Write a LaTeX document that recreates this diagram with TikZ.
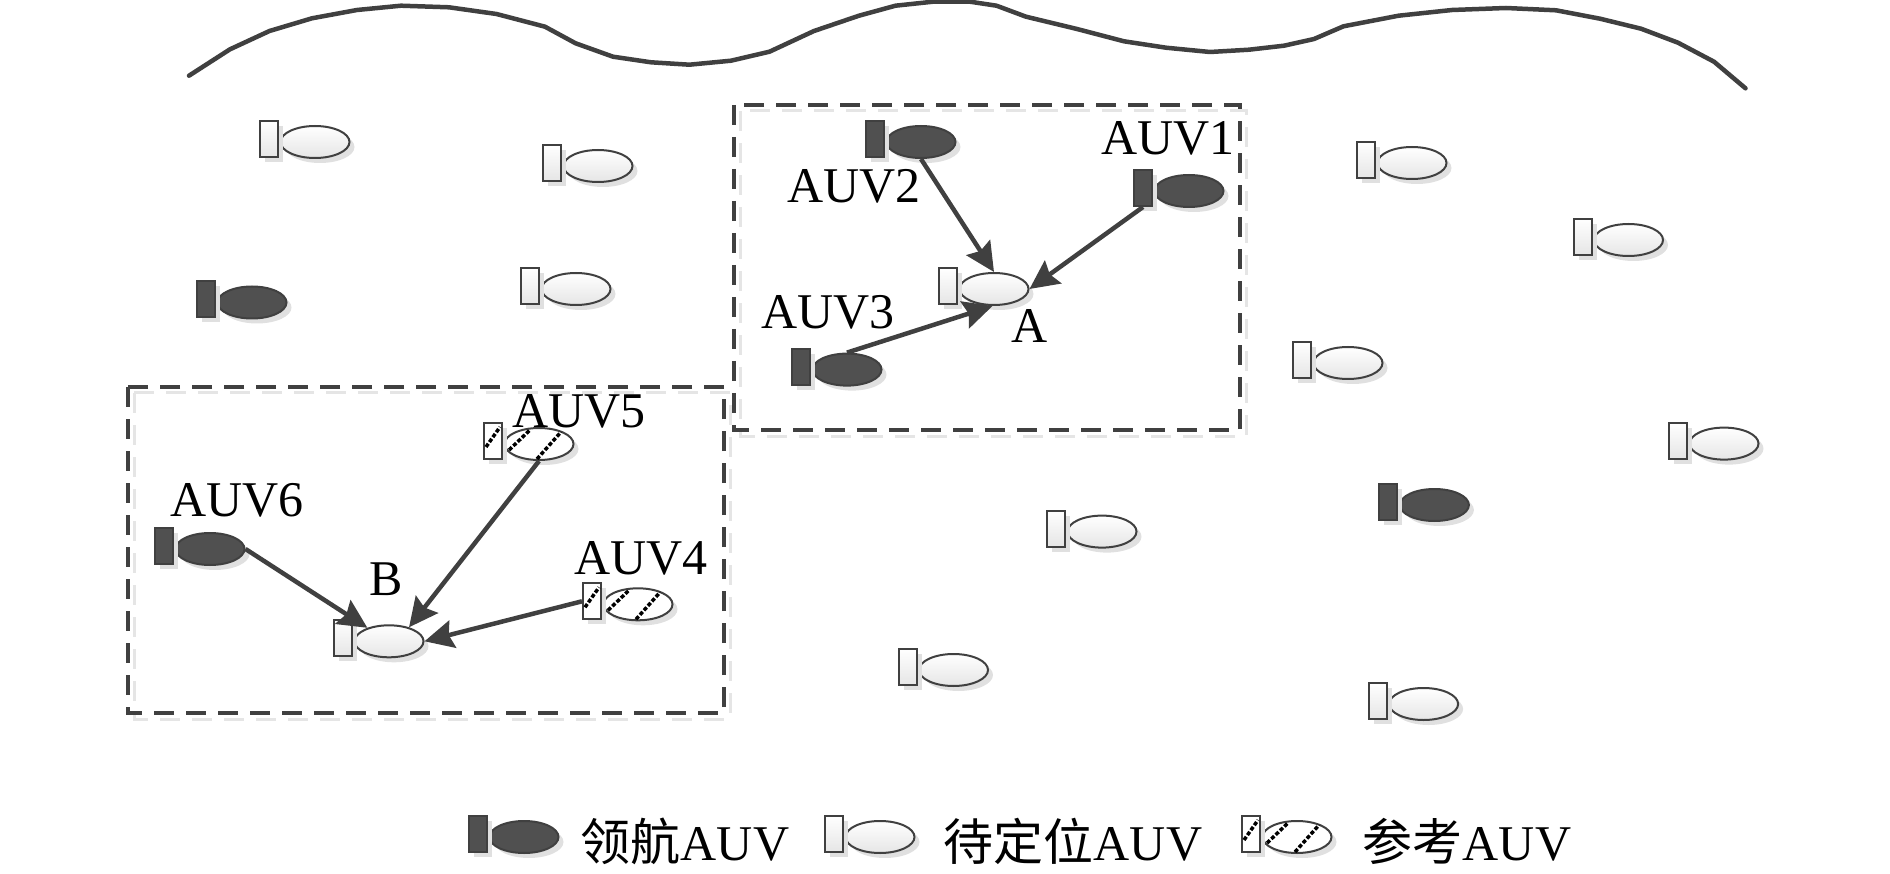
\documentclass[tikz,border=0pt]{standalone}
\usepackage{fontspec}
\setmainfont{Liberation Serif}
\newfontfamily\cjk{Noto Sans CJK SC}
\usetikzlibrary{arrows.meta, shapes.geometric, shadows}
\definecolor{auvgray}{HTML}{404040}
\definecolor{auvdark}{HTML}{505050}
\tikzset{
  softshadow/.style={drop shadow={shadow xshift=5pt, shadow yshift=-5pt, fill=black!12, opacity=1}},
  leadbody/.style={ellipse, draw=auvgray, line width=2pt, fill=auvdark, minimum width=69pt, minimum height=32pt, inner sep=0pt, softshadow},
  leadtail/.style={rectangle, draw=auvgray, line width=2pt, fill=auvdark, minimum width=18pt, minimum height=36pt, inner sep=0pt, softshadow},
  waitbody/.style={leadbody, fill=white, top color=white, bottom color=black!10},
  waittail/.style={leadtail, fill=white, top color=white, bottom color=black!10},
  refbody/.style={leadbody, fill=white},
  reftail/.style={leadtail, fill=white},
  hatchline/.style={draw=black, line width=3.5pt, dash pattern=on 4pt off 2pt},
  linkarrow/.style={draw=auvgray, line width=4.5pt, -{Stealth[length=29pt, width=28pt, inset=4pt]}},
  boxline/.style={draw=auvgray, line width=4.5pt, dash pattern=on 20pt off 12pt},
  boxshadow/.style={draw=black!10, line width=3pt, dash pattern=on 20pt off 12pt},
  auvlabel/.style={inner sep=0pt, font=\fontsize{50}{50}\selectfont}
}
\newcommand{\auv}[4]{
  \node[#1body] (#2) at (#3,#4) {};
  \node[#1tail] (#2t) at ([xshift=-46pt, yshift=3pt]#2.center) {};
}
\newcommand{\hatchauv}[1]{
  \draw[hatchline] ([shift={(-30pt,-6pt)}]#1.center) -- ([shift={(-9pt,14pt)}]#1.center);
  \draw[hatchline] ([shift={(-2pt,-15pt)}]#1.center) -- ([shift={(22pt,12pt)}]#1.center);
  \draw[hatchline] ([shift={(-7pt,-6pt)}]#1t.center) -- ([shift={(7pt,14pt)}]#1t.center);
}
\begin{document}
\begin{tikzpicture}[x=1pt, y=-1pt]
  \useasboundingbox (0,0) rectangle (1890,874);
  \draw[draw=auvgray, line width=4.5pt, line join=round, line cap=round] (189,75.7) -- (230,49.3) -- (269.5,31) -- (312,18.3) -- (357,10) -- (401,5.7) -- (449,7.3) -- (496.5,14) -- (545,26.7) -- (575.6,43.3) -- (613,56.7) -- (651,62.3) -- (689.4,64.7) -- (731,60.7) -- (769.5,51.7) -- (814,31) -- (859,15.7) -- (895.5,5.7) -- (933,1.7) -- (970,1.7) -- (996.5,5.7) -- (1026,16.7) -- (1077,29) -- (1124,41.3) -- (1166,47.7) -- (1210,52) -- (1249,49.7) -- (1284,45.7) -- (1314,39) -- (1343.5,26.3) -- (1398.6,15.7) -- (1452,10) -- (1506,8) -- (1556,10.3) -- (1600,18.7) -- (1641,28.7) -- (1678,42.7) -- (1714,61.7) -- (1745.5,88.3);

  \draw[boxshadow] (740,111) rectangle (1246,436);
  \draw[boxshadow] (134,393) rectangle (730,719);
  \draw[boxline] (734,105) rectangle (1240,430);
  \draw[boxline] (128,387) rectangle (724,713);

  \auv{wait}{w1}{315}{142}
  \auv{wait}{w2}{598}{166}
  \auv{wait}{w3}{576}{289}
  \auv{wait}{w4}{1412}{163}
  \auv{wait}{w5}{1628.5}{240}
  \auv{wait}{w6}{1348}{363}
  \auv{wait}{w7}{1724}{443.6}
  \auv{wait}{w8}{1102}{531.6}
  \auv{wait}{w9}{953.5}{670}
  \auv{wait}{w10}{1423.6}{704}
  \auv{lead}{l1}{252}{302.5}
  \auv{lead}{l2}{1434.4}{505}

  \auv{wait}{ptA}{994}{289}
  \auv{lead}{auv1}{1189}{191}
  \auv{lead}{auv2}{921}{142}
  \auv{lead}{auv3}{847}{369.6}
  \auv{wait}{ptB}{389}{641.3}
  \auv{ref}{auv4}{638}{604.3}
  \hatchauv{auv4}
  \auv{ref}{auv5}{539}{444}
  \hatchauv{auv5}
  \auv{lead}{auv6}{210}{549}

  \draw[linkarrow] (auv1t.south) -- (ptA.east);
  \draw[linkarrow] (auv2.south) -- (ptA.north);
  \draw[linkarrow] (auv3.north) -- (ptA.265);
  \draw[linkarrow] (auv4t.west) -- (ptB.east);
  \draw[linkarrow] (auv5.south) -- (ptB.35);
  \draw[linkarrow] (auv6.east) -- (ptB.148);

  \node[auvlabel] (lab1) at (1168,138) {AUV1};
  \node[auvlabel] (lab2) at (854,186) {AUV2};
  \node[auvlabel] (lab3) at (828,312) {AUV3};
  \node[auvlabel] (lab4) at (641,558.3) {AUV4};
  \node[auvlabel] (lab5) at (579,411.7) {AUV5};
  \node[auvlabel] (lab6) at (237,500.7) {AUV6};
  \node[auvlabel] (labA) at (1030,326) {A};
  \node[auvlabel] (labB) at (386,579.3) {B};

  \auv{lead}{keylead}{524}{837}
  \auv{wait}{keywait}{880}{837}
  \auv{ref}{keyref}{1297}{837}
  \hatchauv{keyref}
  \node[auvlabel] (txtlead) at (685,841) {{\cjk 领航}AUV};
  \node[auvlabel] (txtwait) at (1073,841) {{\cjk 待定位}AUV};
  \node[auvlabel] (txtref) at (1467,841) {{\cjk 参考}AUV};
\end{tikzpicture}
\end{document}
